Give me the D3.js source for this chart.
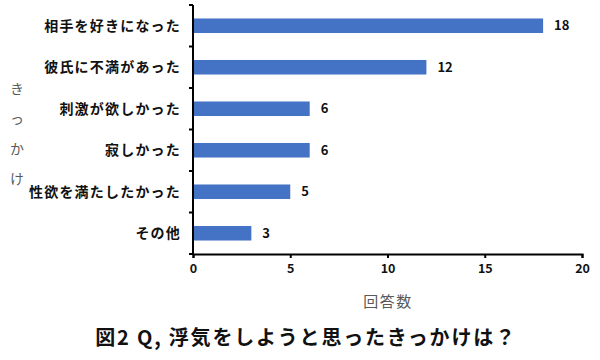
<!DOCTYPE html>
<html><head><meta charset="utf-8">
<script src="https://cdn.jsdelivr.net/npm/d3@7"></script>
<style>body{margin:0;background:#fff}svg{display:block}</style>
</head><body>
<script>
const categories = ["相手を好きになった","彼氏に不満があった","刺激が欲しかった","寂しかった","性欲を満たしたかった","その他"];
const values = [18,12,6,6,5,3];
const xTicks = [0,5,10,15,20];
const yTitleChars = ["き","っ","か","け"];
const xTitle = "回答数";
const title = "図2 Q, 浮気をしようと思ったきっかけは？";

const W=600,H=360;
const font = "'Noto Sans CJK JP','Noto Sans',sans-serif";
const svg = d3.select("body").append("svg").attr("width",W).attr("height",H).style("font-family",font);
const x = d3.scaleLinear().domain([0,20]).range([193,582]);
const y = d3.scaleBand().domain(categories).range([5,254]).paddingInner(0.65).paddingOuter(0.325);
const yb = d3.scaleBand().domain(categories).range([5,254]);

svg.append("g").selectAll("rect").data(values).join("rect")
  .attr("x",x(0)).attr("y",(d,i)=>y(categories[i]))
  .attr("width",d=>x(d)-x(0)).attr("height",y.bandwidth())
  .attr("fill","#4472C4");

svg.append("g").selectAll("text").data(values).join("text")
  .attr("x",d=>x(d)+11).attr("y",(d,i)=>y(categories[i])+y.bandwidth()/2)
  .attr("dy","0.36em").attr("font-size",13).attr("font-weight","bold").attr("fill","#111")
  .text(d=>d);

// y axis
const ya = svg.append("g");
ya.append("line").attr("x1",x(0)).attr("x2",x(0)).attr("y1",5).attr("y2",254).attr("stroke","#000").attr("stroke-width",2);
const yTickPos = categories.map(c=>yb(c)).concat([254]);
ya.selectAll("line.t").data(yTickPos).join("line").attr("class","t")
  .attr("x1",x(0)-4).attr("x2",x(0)).attr("y1",d=>d).attr("y2",d=>d).attr("stroke","#000").attr("stroke-width",2);
ya.selectAll("text").data(categories).join("text")
  .attr("x",181).attr("y",c=>y(c)+y.bandwidth()/2).attr("dy","0.36em")
  .attr("text-anchor","end").attr("font-size",14).attr("letter-spacing","1.2px").attr("font-weight","bold").attr("fill","#111")
  .text(c=>c);

// x axis
const xa = svg.append("g").attr("transform","translate(0,254)")
  .call(d3.axisBottom(x).tickValues(xTicks).tickSize(4).tickPadding(6));
xa.select(".domain").attr("stroke","#000").attr("stroke-width",2);
xa.selectAll(".tick line").attr("stroke","#000").attr("stroke-width",2);
xa.selectAll(".tick text").attr("font-size",12.5).attr("font-weight","bold").attr("fill","#111").attr("font-family",font);

// titles
svg.append("text").attr("x",388).attr("y",307).attr("text-anchor","middle")
  .attr("font-size",15).attr("letter-spacing","1.5px").attr("fill","#595959").text(xTitle);
svg.selectAll("text.yt").data(yTitleChars).join("text").attr("class","yt")
  .attr("x",17).attr("y",(d,i)=>94+i*30).attr("text-anchor","middle")
  .attr("font-size",14).attr("fill","#595959").text(d=>d);
svg.append("text").attr("x",306).attr("y",345).attr("text-anchor","middle")
  .attr("font-size",20).attr("letter-spacing","1.8px").attr("font-weight","bold").attr("fill","#111").text(title);
</script>
</body></html>
